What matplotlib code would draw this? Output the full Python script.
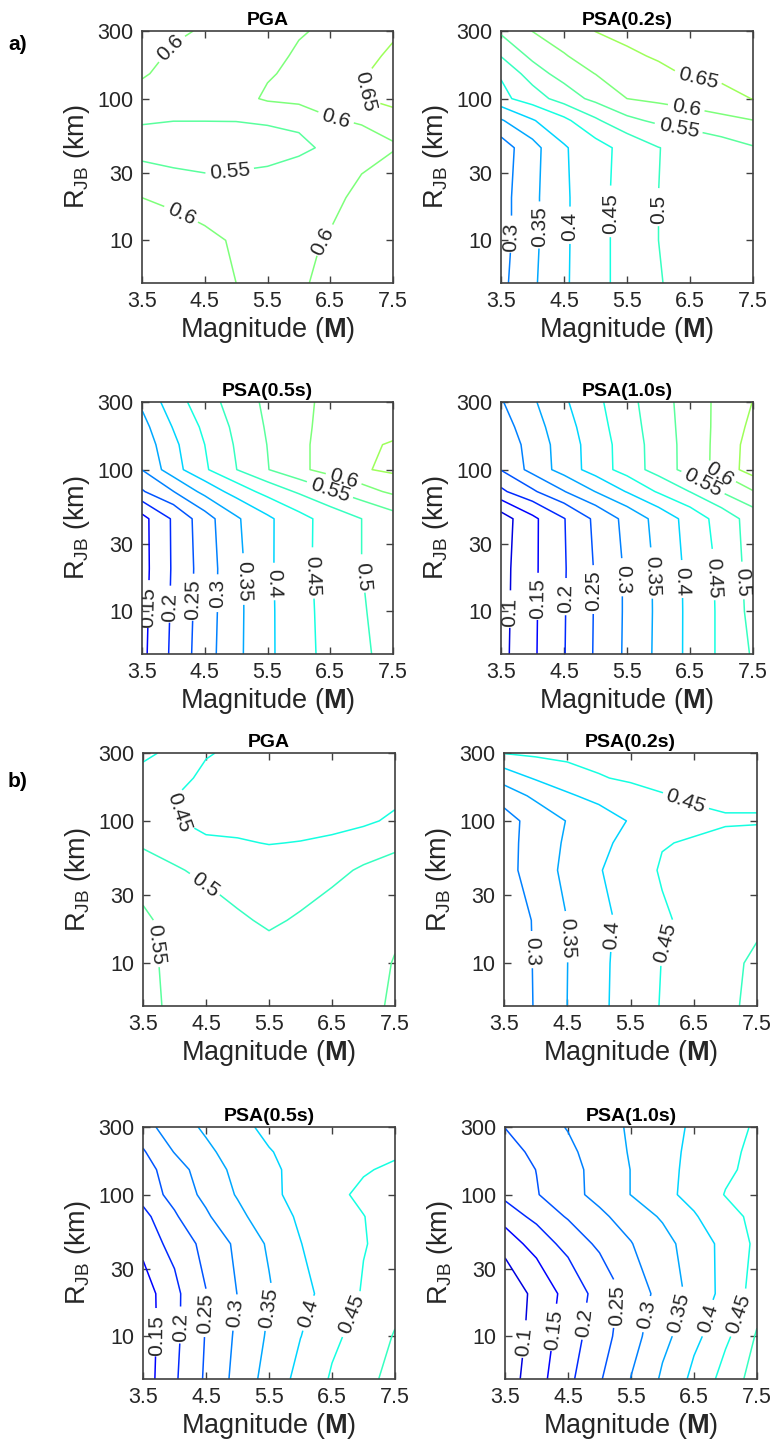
import numpy as np
import matplotlib.pyplot as plt
from matplotlib.colors import Normalize
from matplotlib.ticker import NullLocator

plt.rcParams['font.family'] = ['Liberation Sans', 'DejaVu Sans']
plt.rcParams['mathtext.fontset'] = 'custom'
plt.rcParams['mathtext.rm'] = 'Liberation Sans'
plt.rcParams['mathtext.bf'] = 'Liberation Sans:bold'

# grid of the contour maps
mag = [3.5, 4.0, 4.5, 5.0, 5.5, 6.0, 6.5, 7.0, 7.5]
rjb = [5, 10, 20, 45, 70, 100, 150, 200, 300]

levels = [0.1, 0.15, 0.2, 0.25, 0.3, 0.35, 0.4, 0.45, 0.5, 0.55, 0.6, 0.65]

# values, one row per distance (5 km ... 300 km)
a_pga = [
    [0.645, 0.635, 0.625, 0.600, 0.590, 0.595, 0.610, 0.630, 0.650],
    [0.640, 0.625, 0.610, 0.595, 0.585, 0.590, 0.603, 0.625, 0.645],
    [0.600, 0.585, 0.573, 0.567, 0.567, 0.570, 0.585, 0.615, 0.625],
    [0.523, 0.515, 0.515, 0.528, 0.535, 0.544, 0.5555, 0.575, 0.597],
    [0.556, 0.551, 0.551, 0.551, 0.554, 0.556, 0.595, 0.606, 0.612],
    [0.585, 0.578, 0.574, 0.582, 0.607, 0.618, 0.632, 0.648, 0.680],
    [0.605, 0.585, 0.575, 0.573, 0.595, 0.612, 0.628, 0.645, 0.668],
    [0.620, 0.592, 0.578, 0.572, 0.585, 0.607, 0.622, 0.633, 0.660],
    [0.630, 0.612, 0.593, 0.580, 0.578, 0.595, 0.610, 0.625, 0.640],
]
a_psa02 = [
    [0.287, 0.342, 0.393, 0.434, 0.468, 0.498, 0.512, 0.522, 0.530],
    [0.281, 0.338, 0.392, 0.434, 0.468, 0.500, 0.515, 0.525, 0.533],
    [0.281, 0.338, 0.392, 0.434, 0.468, 0.500, 0.517, 0.530, 0.540],
    [0.276, 0.333, 0.395, 0.432, 0.466, 0.499, 0.515, 0.530, 0.547],
    [0.345, 0.396, 0.438, 0.492, 0.538, 0.560, 0.573, 0.587, 0.599],
    [0.437, 0.475, 0.523, 0.564, 0.600, 0.612, 0.625, 0.637, 0.651],
    [0.455, 0.526, 0.571, 0.601, 0.620, 0.640, 0.655, 0.660, 0.665],
    [0.502, 0.562, 0.597, 0.620, 0.642, 0.655, 0.662, 0.668, 0.672],
    [0.560, 0.601, 0.625, 0.651, 0.665, 0.675, 0.680, 0.685, 0.690],
]
a_psa05 = [
    [0.138, 0.211, 0.278, 0.338, 0.390, 0.432, 0.465, 0.493, 0.515],
    [0.135, 0.208, 0.275, 0.337, 0.390, 0.433, 0.467, 0.496, 0.520],
    [0.133, 0.206, 0.274, 0.337, 0.391, 0.435, 0.470, 0.500, 0.525],
    [0.134, 0.207, 0.279, 0.343, 0.391, 0.434, 0.470, 0.500, 0.530],
    [0.245, 0.299, 0.366, 0.421, 0.468, 0.507, 0.546, 0.580, 0.610],
    [0.301, 0.380, 0.443, 0.499, 0.548, 0.589, 0.620, 0.645, 0.660],
    [0.319, 0.389, 0.450, 0.505, 0.551, 0.589, 0.620, 0.640, 0.655],
    [0.333, 0.403, 0.460, 0.511, 0.555, 0.589, 0.615, 0.628, 0.630],
    [0.360, 0.427, 0.478, 0.522, 0.560, 0.590, 0.610, 0.620, 0.625],
]
a_psa10 = [
    [0.085, 0.142, 0.198, 0.255, 0.309, 0.361, 0.412, 0.460, 0.505],
    [0.083, 0.141, 0.197, 0.254, 0.308, 0.360, 0.412, 0.460, 0.515],
    [0.082, 0.140, 0.196, 0.254, 0.308, 0.361, 0.413, 0.462, 0.520],
    [0.076, 0.139, 0.198, 0.260, 0.315, 0.367, 0.419, 0.471, 0.522],
    [0.190, 0.242, 0.298, 0.351, 0.403, 0.456, 0.501, 0.553, 0.597],
    [0.252, 0.317, 0.371, 0.423, 0.472, 0.521, 0.570, 0.618, 0.675],
    [0.265, 0.320, 0.373, 0.424, 0.473, 0.522, 0.570, 0.617, 0.672],
    [0.278, 0.329, 0.380, 0.430, 0.478, 0.525, 0.571, 0.615, 0.662],
    [0.296, 0.343, 0.393, 0.438, 0.484, 0.529, 0.572, 0.614, 0.651],
]
b_pga = [
    [0.565, 0.540, 0.530, 0.520, 0.512, 0.517, 0.528, 0.540, 0.555],
    [0.565, 0.535, 0.530, 0.520, 0.509, 0.515, 0.525, 0.535, 0.552],
    [0.560, 0.530, 0.515, 0.504, 0.496, 0.503, 0.513, 0.528, 0.540],
    [0.515, 0.505, 0.490, 0.480, 0.475, 0.480, 0.490, 0.505, 0.515],
    [0.495, 0.475, 0.455, 0.455, 0.448, 0.452, 0.460, 0.475, 0.490],
    [0.475, 0.452, 0.440, 0.430, 0.425, 0.425, 0.430, 0.440, 0.460],
    [0.465, 0.451, 0.440, 0.430, 0.422, 0.418, 0.418, 0.423, 0.435],
    [0.460, 0.465, 0.440, 0.435, 0.425, 0.420, 0.420, 0.425, 0.435],
    [0.443, 0.458, 0.454, 0.440, 0.430, 0.425, 0.425, 0.430, 0.435],
]
b_psa02 = [
    [0.257, 0.304, 0.3501, 0.389, 0.423, 0.453, 0.472, 0.492, 0.510],
    [0.258, 0.305, 0.3495, 0.388, 0.422, 0.451, 0.470, 0.490, 0.507],
    [0.262, 0.306, 0.351, 0.386, 0.417, 0.445, 0.460, 0.475, 0.490],
    [0.282, 0.323, 0.362, 0.397, 0.424, 0.455, 0.462, 0.470, 0.478],
    [0.282, 0.321, 0.357, 0.388, 0.415, 0.447, 0.455, 0.462, 0.470],
    [0.282, 0.318, 0.352, 0.380, 0.403, 0.420, 0.435, 0.445, 0.445],
    [0.320, 0.361, 0.394, 0.413, 0.430, 0.447, 0.460, 0.463, 0.463],
    [0.372, 0.405, 0.425, 0.446, 0.458, 0.465, 0.470, 0.473, 0.475],
    [0.452, 0.460, 0.467, 0.472, 0.476, 0.478, 0.480, 0.482, 0.483],
]
b_psa05 = [
    [0.124, 0.193, 0.257, 0.316, 0.369, 0.415, 0.455, 0.486, 0.515],
    [0.122, 0.188, 0.253, 0.309, 0.357, 0.399, 0.438, 0.473, 0.503],
    [0.124, 0.188, 0.249, 0.301, 0.346, 0.384, 0.420, 0.454, 0.480],
    [0.169, 0.218, 0.265, 0.310, 0.357, 0.399, 0.423, 0.447, 0.470],
    [0.185, 0.244, 0.293, 0.338, 0.376, 0.407, 0.428, 0.449, 0.470],
    [0.220, 0.267, 0.313, 0.354, 0.389, 0.415, 0.4375, 0.460, 0.475],
    [0.229, 0.278, 0.325, 0.363, 0.392, 0.412, 0.428, 0.445, 0.460],
    [0.245, 0.302, 0.340, 0.371, 0.398, 0.412, 0.425, 0.435, 0.440],
    [0.284, 0.323, 0.359, 0.388, 0.410, 0.420, 0.428, 0.433, 0.437],
]
b_psa10 = [
    [0.072, 0.130, 0.188, 0.245, 0.301, 0.357, 0.412, 0.468, 0.523],
    [0.064, 0.120, 0.175, 0.228, 0.281, 0.334, 0.386, 0.439, 0.505],
    [0.062, 0.115, 0.167, 0.219, 0.269, 0.318, 0.367, 0.416, 0.470],
    [0.122, 0.171, 0.218, 0.260, 0.298, 0.334, 0.372, 0.415, 0.460],
    [0.172, 0.214, 0.255, 0.290, 0.322, 0.356, 0.395, 0.434, 0.462],
    [0.213, 0.247, 0.282, 0.316, 0.351, 0.384, 0.418, 0.452, 0.470],
    [0.219, 0.251, 0.283, 0.317, 0.351, 0.384, 0.414, 0.441, 0.465],
    [0.231, 0.261, 0.290, 0.322, 0.354, 0.384, 0.411, 0.437, 0.463],
    [0.251, 0.276, 0.303, 0.330, 0.356, 0.382, 0.407, 0.432, 0.456],
]

titles = ['PGA', 'PSA(0.2s)', 'PSA(0.5s)', 'PSA(1.0s)'] * 2
fields = [a_pga, a_psa02, a_psa05, a_psa10, b_pga, b_psa02, b_psa05, b_psa10]

# where the contour labels sit (M, R)
label_pos = [
    [(4.0, 219), (7.08, 111), (6.6, 76), (4.9, 30), (4.11, 14.8), (6.39, 9.8)],
    [(3.66, 10.5), (4.12, 12.5), (4.62, 12.5), (5.21, 15.5), (6.0, 16.5),
     (6.58, 110), (6.42, 76), (6.32, 62)],
    [(3.66, 10.7), (3.98, 10.7), (4.32, 12.2), (4.72, 13.3), (5.14, 16.2),
     (5.62, 15.8), (6.2, 17.6), (7.03, 17.6), (6.71, 85), (6.5, 73)],
    [(3.67, 9.8), (4.12, 12.4), (4.54, 12.4), (4.97, 14), (5.39, 16.7),
     (5.84, 17.6), (6.32, 16.3), (6.8, 17.2), (7.33, 16), (6.95, 90), (6.7, 80)],
    [(3.92, 112), (4.45, 34), (3.67, 13.5)],
    [(6.36, 132), (3.91, 12.1), (4.49, 15), (5.2, 15.8), (6.02, 14)],
    [(3.71, 10.1), (4.11, 11.6), (4.49, 14.6), (4.97, 14.6), (5.5, 15.9),
     (6.09, 14.6), (6.75, 14.6)],
    [(3.81, 9.1), (4.32, 11), (4.77, 12.5), (5.3, 16.5), (5.73, 14.3),
     (6.2, 14.9), (6.68, 13.5), (7.13, 14.9)],
]

# axes boxes in pixels (left, top, right, bottom)
boxes = [
    (142, 31, 393, 283), (501, 31, 753, 283),
    (142, 402, 393, 654), (501, 402, 753, 654),
    (143, 753, 395, 1006), (504, 753, 757, 1006),
    (143, 1127, 395, 1379), (505, 1127, 757, 1379),
]

W, H = 773, 1445
fig = plt.figure(figsize=(W / 100, H / 100), dpi=100)
norm = Normalize(0, 1.2)
grey = '#262626'

for i in range(8):
    l, t, r, b = boxes[i]
    ax = fig.add_axes([l / W, 1 - b / H, (r - l) / W, (b - t) / H])
    ax.set_yscale('log')
    z = np.array(fields[i])
    cs = ax.contour(mag, rjb, z, levels=levels, cmap='jet', norm=norm,
                    linewidths=1.1)
    ax.clabel(cs, fmt='%g', fontsize=15, inline=True, inline_spacing=4,
              colors=grey, manual=label_pos[i])
    ax.set_xlim(3.5, 7.5)
    ax.set_ylim(5, 300)
    ax.set_xticks([3.5, 4.5, 5.5, 6.5, 7.5])
    ax.set_xticklabels(['3.5', '4.5', '5.5', '6.5', '7.5'])
    ax.set_yticks([10, 30, 100, 300])
    ax.set_yticklabels(['10', '30', '100', '300'])
    ax.yaxis.set_minor_locator(NullLocator())
    ax.tick_params(direction='in', top=True, right=True, length=5,
                   width=1, labelsize=15.5, colors='#404040',
                   labelcolor=grey, pad=6)
    for s in ax.spines.values():
        s.set_color('#404040')
        s.set_linewidth(1.2)
    ax.set_title(titles[i], fontsize=14, fontweight='bold', pad=4)
    ax.set_xlabel(r'Magnitude ($\mathbf{M}$)', fontsize=19.5, color=grey,
                  labelpad=2)
    ax.set_ylabel(r'R$_{\rm JB}$ (km)', fontsize=19.5, color=grey,
                  labelpad=4)

fig.text(8 / W, 1 - 50 / H, 'a)', fontsize=15, fontweight='bold')
fig.text(8 / W, 1 - 787 / H, 'b)', fontsize=15, fontweight='bold')

fig.savefig('out.png', dpi=100)
